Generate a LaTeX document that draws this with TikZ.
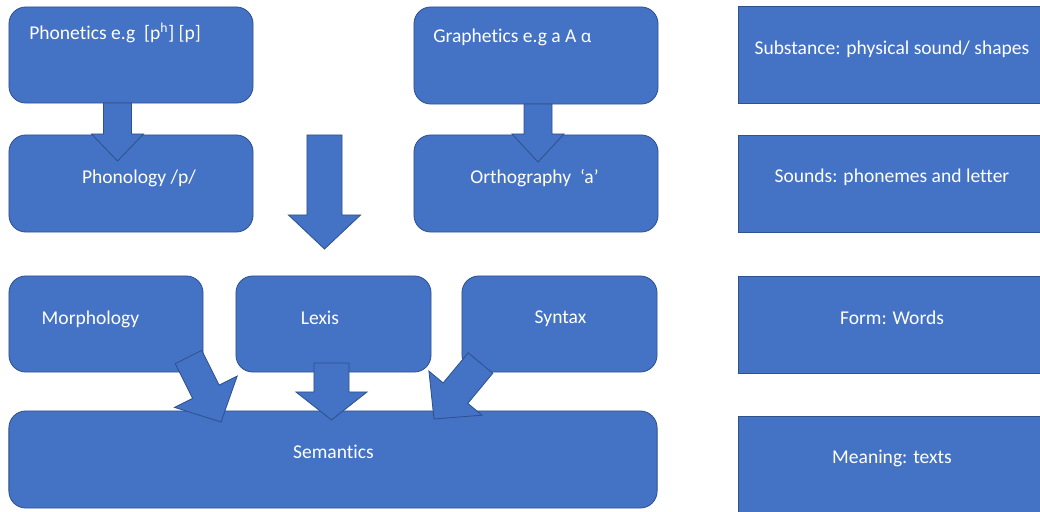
\documentclass[tikz,border=0pt]{standalone}
\usepackage{fontspec}
\setmainfont{Carlito}[Ligatures=NoCommon]
\newfontfamily\ipafont[Scale=0.87]{Noto Sans}
\usetikzlibrary{positioning,calc}
\definecolor{boxblue}{HTML}{4472C4}
\definecolor{edgeblue}{HTML}{2F528F}
\tikzset{
  roundbox/.style={draw=edgeblue, fill=boxblue, line width=0.6pt, rounded corners=0.42cm, inner sep=0pt},
  levelbox/.style={draw=edgeblue, fill=boxblue, line width=0.6pt, inner sep=0pt, minimum width=7.7cm, minimum height=2.425cm},
  boxtext/.style={text=white, inner sep=0pt, font=\fontsize{13.9}{16}\selectfont},
  fatarrow/.style={draw=edgeblue, fill=boxblue, line width=0.6pt, line join=miter}
}
% block arrow: tail, tip, half shaft width, half head width, head length
\newcommand{\blockarrow}[5]{%
  \path ($(#2)!#5!(#1)$) coordinate (headbase);
  \draw[fatarrow] ($(#1)!#3!90:(#2)$) -- ($(headbase)!#3!90:(#2)$) -- ($(headbase)!#4!90:(#2)$)
    -- (#2) -- ($(headbase)!#4!-90:(#2)$) -- ($(headbase)!#3!-90:(#2)$) -- ($(#1)!#3!-90:(#2)$) -- cycle;
}

\begin{document}
\begin{tikzpicture}[x=0.025cm, y=-0.025cm]
  \clip (0,0) rectangle (1040,512);
  % sound and writing
  \node[roundbox, minimum width=6.1cm, minimum height=2.4cm] (phonetics) at (131,55) {};
  \node[roundbox, minimum width=6.1cm, minimum height=2.425cm] (graphetics) at (536,55.5) {};
  \node[roundbox, minimum width=6.1cm, minimum height=2.425cm] (phonology) at (131,183.5) {};
  \node[roundbox, minimum width=6.1cm, minimum height=2.425cm] (orthography) at (536,183.5) {};
  % grammar
  \node[roundbox, minimum width=4.85cm, minimum height=2.4cm] (morphology) at (106,324) {};
  \node[roundbox, minimum width=4.875cm, minimum height=2.4cm] (lexis) at (333.5,324) {};
  \node[roundbox, minimum width=4.875cm, minimum height=2.4cm] (syntax) at (559.5,324) {};
  \node[roundbox, minimum width=16.2cm, minimum height=2.425cm] (semantics) at (333,459.5) {};
  % levels
  \node[levelbox] (substance) at (892,55) {};
  \node[levelbox] (sounds) at (892,184) {};
  \node[levelbox] (form) at (892,324.5) {};
  \node[levelbox] (meaning) at (892,464.5) {};

  \node[boxtext, anchor=west] (phoneticstxt) at (29,33) {Phonetics e.g\ \ [p\textsuperscript{h}] [p]};
  \node[boxtext, anchor=west] (grapheticstxt) at (433,37) {Graphetics e.g a A {\ipafont ɑ}};
  \node[boxtext] (phonologytxt) at (139,178) {Phonology /p/};
  \node[boxtext] (orthographytxt) at (534.5,178) {Orthography\ \ ‘a’};
  \node[boxtext] (morphologytxt) at (90.5,319) {Morphology};
  \node[boxtext] (lexistxt) at (320,318) {Lexis};
  \node[boxtext] (syntaxtxt) at (560.5,319) {Syntax};
  \node[boxtext] (semanticstxt) at (333.5,452) {Semantics};
  \node[boxtext] (substancetxt) at (892,49) {Substance: physical sound/ shapes};
  \node[boxtext] (soundstxt) at (892,177.5) {Sounds: phonemes and letter};
  \node[boxtext] (formtxt) at (892,318) {Form: Words};
  \node[boxtext] (meaningtxt) at (892,458) {Meaning: texts};

  % arrows
  \coordinate (phtail) at (117.5,103);
  \coordinate (phtip) at (117.5,161);
  \coordinate (grtail) at (538,104);
  \coordinate (grtip) at (538,162);
  \coordinate (downtail) at (324.5,135);
  \coordinate (downtip) at (324.5,249);
  \coordinate (motail) at (188.5,357);
  \coordinate (motip) at (221,422);
  \coordinate (lxtail) at (331.5,363);
  \coordinate (lxtip) at (331.5,420);
  \coordinate (sytail) at (480.5,363);
  \coordinate (sytip) at (434,419);
  \blockarrow{phtail}{phtip}{0.35cm}{0.65cm}{0.675cm}
  \blockarrow{grtail}{grtip}{0.35cm}{0.65cm}{0.7cm}
  \blockarrow{downtail}{downtip}{0.4375cm}{0.9cm}{0.85cm}
  \blockarrow{motail}{motip}{0.37cm}{0.875cm}{0.845cm}
  \blockarrow{lxtail}{lxtip}{0.4375cm}{0.8875cm}{0.7cm}
  \blockarrow{sytail}{sytip}{0.4cm}{0.8625cm}{0.84cm}
\end{tikzpicture}
\end{document}
